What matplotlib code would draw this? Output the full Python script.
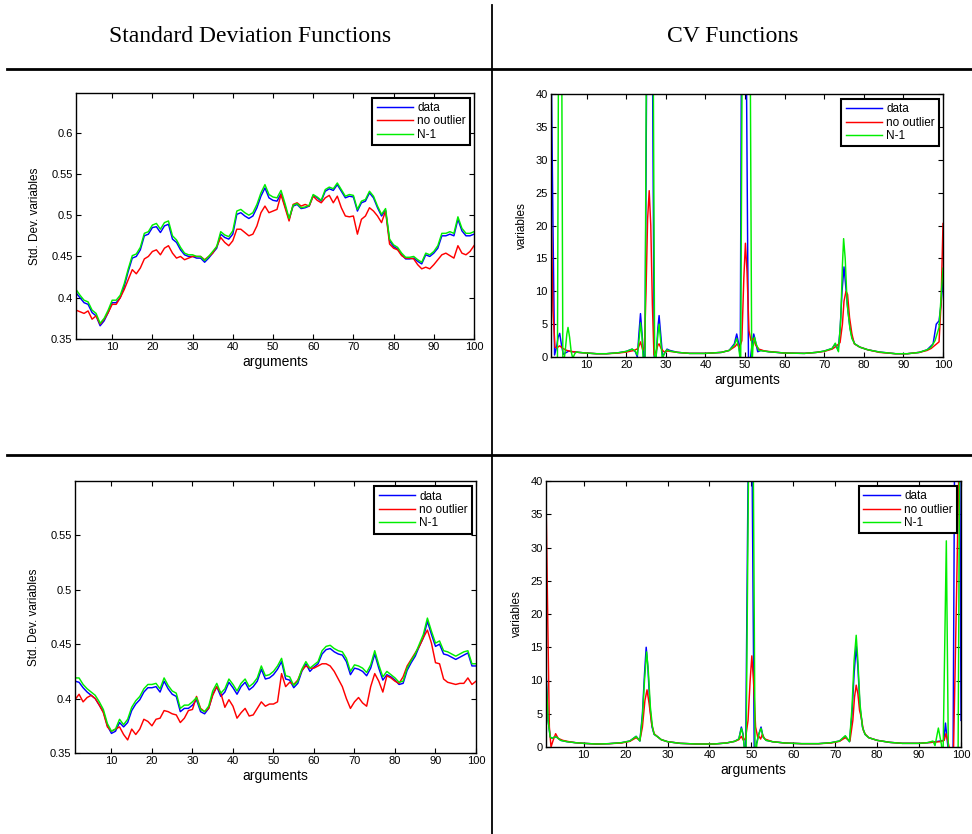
import matplotlib
matplotlib.use("Agg")
import matplotlib.pyplot as plt
from matplotlib.lines import Line2D
from matplotlib.ticker import FuncFormatter

plt.rcParams['font.family'] = ['Liberation Sans', 'DejaVu Sans']

# ---------------------------------------------------------------- data
arguments = list(range(1, 101))

# upper panel: standard deviation functions
std_top_data = [
    0.406, 0.400, 0.394, 0.392, 0.382, 0.378, 0.366, 0.372, 0.382, 0.394,
    0.394, 0.400, 0.414, 0.432, 0.448, 0.450, 0.458, 0.475, 0.477, 0.485,
    0.486, 0.479, 0.487, 0.489, 0.471, 0.467, 0.458, 0.452, 0.450, 0.450,
    0.448, 0.448, 0.443, 0.448, 0.454, 0.460, 0.477, 0.473, 0.471, 0.477,
    0.501, 0.503, 0.499, 0.496, 0.499, 0.509, 0.523, 0.533, 0.521, 0.518,
    0.517, 0.526, 0.511, 0.495, 0.511, 0.513, 0.508, 0.509, 0.511, 0.524,
    0.521, 0.517, 0.529, 0.532, 0.530, 0.537, 0.529, 0.521, 0.523, 0.522,
    0.505, 0.515, 0.517, 0.527, 0.521, 0.509, 0.499, 0.506, 0.469, 0.462,
    0.459, 0.452, 0.447, 0.447, 0.448, 0.444, 0.441, 0.452, 0.450, 0.454,
    0.460, 0.475, 0.475, 0.477, 0.475, 0.495, 0.481, 0.475, 0.475, 0.477]
std_top_no_outlier = [
    0.385, 0.383, 0.381, 0.384, 0.374, 0.378, 0.368, 0.374, 0.382, 0.392,
    0.392, 0.400, 0.410, 0.422, 0.434, 0.429, 0.436, 0.447, 0.450, 0.456,
    0.458, 0.452, 0.460, 0.463, 0.454, 0.448, 0.450, 0.446, 0.448, 0.450,
    0.450, 0.450, 0.446, 0.450, 0.454, 0.462, 0.473, 0.467, 0.463, 0.469,
    0.483, 0.483, 0.479, 0.475, 0.477, 0.487, 0.503, 0.511, 0.503, 0.505,
    0.507, 0.525, 0.509, 0.493, 0.513, 0.515, 0.511, 0.513, 0.511, 0.523,
    0.518, 0.515, 0.521, 0.524, 0.515, 0.523, 0.509, 0.499, 0.498, 0.499,
    0.477, 0.495, 0.499, 0.509, 0.505, 0.499, 0.491, 0.505, 0.465, 0.460,
    0.458, 0.451, 0.448, 0.448, 0.447, 0.440, 0.435, 0.437, 0.435, 0.440,
    0.446, 0.452, 0.454, 0.451, 0.448, 0.463, 0.454, 0.452, 0.456, 0.463]
std_top_n1 = [
    0.410, 0.403, 0.397, 0.395, 0.385, 0.381, 0.369, 0.375, 0.385, 0.397,
    0.397, 0.403, 0.417, 0.435, 0.451, 0.453, 0.461, 0.478, 0.480, 0.488,
    0.490, 0.483, 0.491, 0.493, 0.475, 0.470, 0.461, 0.454, 0.452, 0.452,
    0.450, 0.450, 0.445, 0.450, 0.456, 0.462, 0.480, 0.476, 0.474, 0.481,
    0.505, 0.507, 0.503, 0.500, 0.503, 0.513, 0.527, 0.537, 0.525, 0.522,
    0.521, 0.530, 0.514, 0.496, 0.512, 0.514, 0.509, 0.510, 0.512, 0.525,
    0.522, 0.518, 0.531, 0.534, 0.532, 0.539, 0.531, 0.523, 0.525, 0.524,
    0.507, 0.517, 0.519, 0.529, 0.523, 0.511, 0.501, 0.508, 0.471, 0.464,
    0.461, 0.454, 0.449, 0.449, 0.450, 0.446, 0.443, 0.454, 0.452, 0.456,
    0.463, 0.478, 0.478, 0.480, 0.478, 0.498, 0.484, 0.478, 0.478, 0.480]

# lower panel: standard deviation functions
std_bottom_data = [
    0.416, 0.415, 0.410, 0.406, 0.403, 0.400, 0.394, 0.388, 0.375, 0.368,
    0.370, 0.378, 0.374, 0.378, 0.389, 0.395, 0.399, 0.406, 0.410, 0.410,
    0.411, 0.406, 0.416, 0.409, 0.404, 0.402, 0.388, 0.391, 0.391, 0.394,
    0.399, 0.388, 0.386, 0.391, 0.404, 0.411, 0.402, 0.406, 0.415, 0.410,
    0.404, 0.411, 0.415, 0.408, 0.411, 0.416, 0.427, 0.418, 0.419, 0.422,
    0.427, 0.434, 0.418, 0.417, 0.410, 0.414, 0.425, 0.432, 0.425, 0.429,
    0.432, 0.441, 0.445, 0.446, 0.443, 0.441, 0.440, 0.434, 0.422, 0.428,
    0.427, 0.425, 0.421, 0.428, 0.441, 0.428, 0.417, 0.422, 0.420, 0.417,
    0.413, 0.414, 0.426, 0.433, 0.439, 0.448, 0.456, 0.471, 0.459, 0.448,
    0.450, 0.441, 0.440, 0.438, 0.436, 0.438, 0.440, 0.442, 0.430, 0.430]
std_bottom_no_outlier = [
    0.399, 0.404, 0.397, 0.401, 0.403, 0.400, 0.394, 0.387, 0.374, 0.370,
    0.372, 0.374, 0.367, 0.362, 0.372, 0.367, 0.372, 0.381, 0.379, 0.375,
    0.381, 0.382, 0.389, 0.388, 0.386, 0.385, 0.378, 0.382, 0.389, 0.390,
    0.402, 0.391, 0.388, 0.391, 0.403, 0.411, 0.405, 0.392, 0.399, 0.393,
    0.382, 0.387, 0.391, 0.384, 0.385, 0.391, 0.397, 0.393, 0.395, 0.395,
    0.397, 0.423, 0.411, 0.415, 0.413, 0.417, 0.426, 0.430, 0.428, 0.428,
    0.430, 0.432, 0.432, 0.430, 0.425, 0.418, 0.411, 0.400, 0.391, 0.397,
    0.401, 0.396, 0.393, 0.411, 0.423, 0.416, 0.406, 0.421, 0.419, 0.416,
    0.414, 0.420, 0.430, 0.436, 0.442, 0.448, 0.456, 0.463, 0.451, 0.433,
    0.432, 0.418, 0.415, 0.414, 0.413, 0.414, 0.414, 0.419, 0.413, 0.416]
std_bottom_n1 = [
    0.419, 0.419, 0.413, 0.409, 0.406, 0.403, 0.397, 0.390, 0.377, 0.370,
    0.372, 0.381, 0.376, 0.381, 0.392, 0.398, 0.402, 0.409, 0.413, 0.413,
    0.414, 0.409, 0.419, 0.412, 0.407, 0.405, 0.391, 0.394, 0.394, 0.397,
    0.401, 0.390, 0.388, 0.393, 0.407, 0.414, 0.405, 0.409, 0.418, 0.413,
    0.407, 0.414, 0.418, 0.411, 0.414, 0.419, 0.430, 0.421, 0.422, 0.425,
    0.430, 0.437, 0.421, 0.420, 0.412, 0.416, 0.427, 0.434, 0.428, 0.431,
    0.434, 0.444, 0.448, 0.449, 0.446, 0.444, 0.443, 0.437, 0.425, 0.431,
    0.430, 0.428, 0.424, 0.431, 0.444, 0.431, 0.420, 0.425, 0.422, 0.419,
    0.415, 0.416, 0.428, 0.435, 0.441, 0.450, 0.459, 0.474, 0.462, 0.451,
    0.453, 0.444, 0.443, 0.441, 0.439, 0.441, 0.443, 0.444, 0.432, 0.432]

# upper panel: CV functions, (argument, value) pairs
cv_top_data = [
    (1, 48), (1.5, 20), (1.9, 0.3), (2.4, 1.5), (2.8, 3.0), (3.2, 3.6), (3.6, 2.0),
    (4.1, 0.4), (4.6, 0.6), (5.5, 0.9), (6.5, 0.8), (8, 0.7), (10, 0.6), (12.5, 0.5),
    (15, 0.5), (18, 0.65), (20, 0.85), (21.5, 1.2), (22.3, 0.8), (22.8, 0.0),
    (23.2, 3.5), (23.6, 6.6), (24.0, 3.5), (24.4, 0.0), (24.7, -3), (25.2, 48),
    (26.6, 48), (27.1, -3), (27.6, 0.5), (28.0, 4.5), (28.3, 6.3), (28.7, 3.5),
    (29.2, 0.0), (29.7, 0.6), (30.3, 1.2), (31, 1.0), (33, 0.7), (36, 0.55),
    (40, 0.55), (44, 0.7), (46, 1.0), (47.3, 2.0), (47.9, 3.5), (48.4, 2.0),
    (48.8, 0.0), (49.1, 48), (50.3, 48), (50.9, -3), (51.5, 0.5), (51.9, 2.5),
    (52.2, 3.5), (52.6, 2.5), (53.2, 0.8), (54, 1.0), (56, 0.8), (60, 0.6),
    (65, 0.55), (68, 0.7), (70, 0.9), (72, 1.3), (72.8, 2.0), (73.5, 1.0),
    (74.0, 4), (74.5, 10), (75.0, 13.7), (75.4, 11), (76.0, 7), (76.5, 4.5),
    (77.0, 3.0), (77.7, 2.0), (79, 1.5), (81, 1.1), (84, 0.75), (88, 0.5),
    (91, 0.5), (94, 0.7), (96, 1.1), (97.5, 2.0), (98.3, 5.0), (99, 5.5),
    (99.5, 8), (100, 11.7)]
cv_top_no_outlier = [
    (1, 23.4), (1.5, 7), (2.0, 1.5), (2.5, 1.4), (3.2, 1.7), (4, 1.3), (5, 1.0),
    (6, 0.85), (8, 0.7), (10, 0.6), (12.5, 0.5), (15, 0.5), (18, 0.6), (20, 0.75),
    (22, 1.0), (23, 1.3), (23.6, 2.3), (24.2, 1.0), (24.6, 1.5), (25.0, 10),
    (25.4, 21), (25.8, 25.3), (26.2, 20), (26.6, 8), (27.0, 0.3), (27.5, 0.8),
    (28.0, 1.8), (28.3, 2.0), (28.8, 1.3), (29.5, 0.8), (30.5, 0.9), (33, 0.7),
    (36, 0.55), (40, 0.55), (44, 0.7), (46, 1.0), (47.5, 1.6), (48, 2.0),
    (48.6, 1.4), (49.2, 2.5), (49.7, 12), (50.1, 17.3), (50.5, 13), (51.0, 4),
    (51.5, 2.5), (52.1, 2.8), (52.7, 1.8), (53.5, 1.2), (55, 0.9), (60, 0.6),
    (65, 0.55), (68, 0.7), (70, 0.85), (72, 1.2), (73, 1.6), (74, 2.2), (74.6, 5),
    (75.0, 8.5), (75.5, 10.0), (75.9, 9.5), (76.4, 6), (77, 3.5), (77.6, 2.0),
    (79, 1.5), (81, 1.1), (84, 0.7), (88, 0.5), (91, 0.5), (94, 0.7), (96, 1.0),
    (97, 1.3), (98, 1.8), (99, 2.3), (99.5, 8), (100, 20.3)]
cv_top_n1 = [
    (1, -5), (2.6, -5), (2.9, 48), (3.7, 48), (4.0, -2), (4.6, 1.0), (5.0, 3.5),
    (5.3, 4.5), (5.7, 3.0), (6.1, 0.8), (6.5, -0.2), (7.0, 0.5), (7.5, 0.8),
    (8, 0.7), (10, 0.6), (12.5, 0.5), (15, 0.5), (18, 0.65), (20, 0.85),
    (21.5, 1.2), (22.3, 0.9), (22.8, 0.3), (23.3, 3), (23.6, 5.2), (24.0, 3),
    (24.4, -2), (24.7, -5), (25.1, 48), (26.8, 48), (27.2, -4), (27.6, 0.5),
    (28.0, 3.5), (28.3, 5.0), (28.7, 2.5), (29.1, -0.2), (29.7, 0.6), (30.3, 1.1),
    (31, 0.9), (33, 0.7), (36, 0.55), (40, 0.55), (44, 0.7), (46, 1.0),
    (47.3, 1.8), (47.9, 2.8), (48.4, 1.5), (48.9, -1), (49.3, 48), (51.3, 48),
    (51.7, -2), (52.0, 1.5), (52.4, 3.0), (52.8, 2.0), (53.5, 1.0), (56, 0.8),
    (60, 0.6), (65, 0.55), (68, 0.7), (70, 0.9), (72, 1.3), (72.8, 2.1),
    (73.6, 0.8), (74.2, 6), (74.6, 14), (74.9, 18), (75.3, 15), (75.8, 8),
    (76.5, 4.3), (77, 2.8), (77.7, 2.0), (79, 1.5), (81, 1.1), (84, 0.75),
    (88, 0.5), (91, 0.5), (94, 0.7), (96, 1.1), (97, 1.5), (98, 2.5), (99, 4.5),
    (99.5, 9), (100, 13.5)]

# lower panel: CV functions, (argument, value) pairs
cv_bottom_data = [
    (1, 11.5), (1.5, 4), (2, 1.5), (2.5, 1.3), (3, 1.5), (3.5, 1.5), (4.5, 1.0),
    (6, 0.8), (8, 0.65), (10, 0.55), (13, 0.45), (16, 0.5), (19, 0.65), (21, 0.9),
    (22.5, 1.6), (23.4, 0.9), (24.0, 5), (24.5, 11), (24.9, 15.0), (25.3, 12),
    (25.8, 6), (26.3, 3), (26.8, 1.9), (27.5, 1.6), (28.5, 1.1), (30, 0.8),
    (33, 0.55), (37, 0.45), (41, 0.45), (44, 0.6), (46, 0.85), (47, 1.2),
    (47.6, 3.0), (48.0, 2.0), (48.3, 0.0), (48.6, -3), (49.3, 48), (50.1, 48),
    (50.7, -3), (51.2, 0.5), (51.8, 2.0), (52.3, 3.0), (52.8, 1.5), (53.5, 1.0),
    (55, 0.8), (58, 0.6), (62, 0.5), (66, 0.5), (69, 0.65), (71, 0.9), (72.4, 1.6),
    (73.4, 0.8), (74.0, 5), (74.5, 11), (75.0, 15.2), (75.4, 12), (75.9, 6),
    (76.5, 3), (77.1, 1.9), (78, 1.4), (80, 1.0), (83, 0.7), (86, 0.55),
    (90, 0.55), (93, 0.7), (95, 0.9), (95.9, 1.0), (96.3, 3.6), (96.8, 0.5),
    (97.2, -2), (98.1, -2), (98.5, 48), (99.7, 48), (100, 4.0)]
cv_bottom_no_outlier = [
    (1, 37.9), (1.4, 20), (1.8, 3), (2.2, 0.0), (2.7, 1.0), (3.3, 2.0), (3.9, 1.3),
    (5, 1.0), (6.5, 0.8), (8, 0.65), (10, 0.55), (13, 0.45), (16, 0.5), (19, 0.6),
    (21, 0.85), (22.5, 1.4), (23.4, 1.0), (24.0, 3), (24.6, 7), (25.1, 8.6),
    (25.6, 6.5), (26.2, 3.5), (26.8, 2.0), (27.5, 1.6), (28.5, 1.1), (30, 0.8),
    (33, 0.55), (37, 0.45), (41, 0.45), (44, 0.6), (46, 0.85), (47, 1.1),
    (47.6, 1.6), (48.1, 1.0), (48.6, 1.3), (49.2, 4), (49.7, 10), (50.1, 13.7),
    (50.5, 10), (51.0, 3), (51.5, 1.5), (51.8, 1.6), (52.2, 1.2), (52.6, 1.9),
    (53.2, 1.2), (55, 0.8), (58, 0.6), (62, 0.5), (66, 0.5), (69, 0.6), (71, 0.85),
    (72.4, 1.4), (73.5, 0.9), (74.2, 4), (74.6, 7.5), (75.0, 9.3), (75.4, 8),
    (75.8, 5.5), (76.2, 4.5), (76.7, 2.5), (77.2, 1.9), (78, 1.4), (80, 1.0),
    (83, 0.7), (86, 0.55), (90, 0.55), (93, 0.7), (95, 0.8), (96, 1.0),
    (96.4, 2.0), (96.9, 0.8), (97.5, -1), (98.2, -1), (98.7, 15), (99.2, 32),
    (99.6, 45), (100, 45)]
cv_bottom_n1 = [
    (1, 11.0), (1.5, 4), (2, 1.5), (2.5, 1.3), (3, 1.5), (3.5, 1.5), (4.5, 1.0),
    (6, 0.8), (8, 0.65), (10, 0.55), (13, 0.45), (16, 0.5), (19, 0.65), (21, 0.9),
    (22.5, 1.6), (23.4, 0.9), (24.0, 4.5), (24.5, 10), (25.0, 14.3), (25.4, 11.5),
    (25.9, 6), (26.4, 3), (26.8, 1.9), (27.5, 1.6), (28.5, 1.1), (30, 0.8),
    (33, 0.55), (37, 0.45), (41, 0.45), (44, 0.6), (46, 0.85), (47, 1.2),
    (47.6, 2.8), (48.0, 1.8), (48.3, 0.0), (48.7, -3), (49.4, 48), (50.4, 48),
    (50.9, -3), (51.3, 0.5), (51.8, 2.0), (52.3, 2.8), (52.8, 1.5), (53.5, 1.0),
    (55, 0.8), (58, 0.6), (62, 0.5), (66, 0.5), (69, 0.65), (71, 0.9), (72.4, 1.7),
    (73.4, 0.8), (74.0, 6), (74.5, 13), (75.0, 16.8), (75.4, 13), (75.9, 6.5),
    (76.5, 3), (77.1, 1.9), (78, 1.4), (80, 1.0), (83, 0.7), (86, 0.55),
    (90, 0.55), (92, 0.65), (93.3, 0.9), (93.8, 0.2), (94.6, 2.85), (95.3, 0.5),
    (95.7, -2), (96.5, 31), (97.0, -2), (99.3, -2), (99.7, 48), (100, 48)]

series_labels = ["data", "no outlier", "N-1"]
series_colors = ["#0000ff", "#ff0000", "#00ee00"]
column_titles = ["Standard Deviation Functions", "CV Functions"]
x_ticks = [10, 20, 30, 40, 50, 60, 70, 80, 90, 100]
std_top_yticks = [0.35, 0.4, 0.45, 0.5, 0.55, 0.6]
std_bottom_yticks = [0.35, 0.4, 0.45, 0.5, 0.55]
cv_yticks = [0, 5, 10, 15, 20, 25, 30, 35, 40]

# ---------------------------------------------------------------- figure
W, H = 972, 834
fig = plt.figure(figsize=(W / 100, H / 100), dpi=100)
fig.patch.set_facecolor("white")


def axes_px(x0, y0, x1, y1):
    return fig.add_axes([x0 / W, 1 - y1 / H, (x1 - x0) / W, (y1 - y0) / H])


def style_axes(ax, ylim, yticks, ylabel, ylabelpad):
    ax.set_xlim(1, 100)
    ax.set_ylim(*ylim)
    ax.set_xticks(x_ticks)
    ax.set_yticks(yticks)
    ax.yaxis.set_major_formatter(FuncFormatter(lambda v, p: "%g" % v))
    ax.tick_params(direction="in", top=True, right=True, length=3.5,
                   width=0.8, labelsize=8, pad=2.5, colors="black")
    for sp in ax.spines.values():
        sp.set_linewidth(1.0)
        sp.set_color("black")
    ax.set_xlabel("arguments", fontsize=10, labelpad=1.5)
    ax.set_ylabel(ylabel, fontsize=8.5, labelpad=ylabelpad)
    leg = ax.legend(loc="upper right", bbox_to_anchor=(0.99, 0.98),
                    borderaxespad=0, fontsize=8.5, handlelength=3.1,
                    handletextpad=0.35, labelspacing=0.12, borderpad=0.35,
                    fancybox=False, framealpha=1, edgecolor="black")
    leg.get_frame().set_linewidth(1.5)


def draw_std(ax, series):
    for vals, lab, col in zip(series, series_labels, series_colors):
        ax.plot(arguments, vals, color=col, lw=1.05, label=lab)


def draw_cv(ax, series):
    for pairs, lab, col in zip(series, series_labels, series_colors):
        xs = [p[0] for p in pairs]
        ys = [p[1] for p in pairs]
        ax.plot(xs, ys, color=col, lw=1.05, label=lab)


ax_tl = axes_px(76, 93, 474, 339)
draw_std(ax_tl, [std_top_data, std_top_no_outlier, std_top_n1])
style_axes(ax_tl, (0.35, 0.648), std_top_yticks, "Std. Dev. variables", 7)

ax_tr = axes_px(551, 94, 943, 357)
draw_cv(ax_tr, [cv_top_data, cv_top_no_outlier, cv_top_n1])
style_axes(ax_tr, (0, 40), cv_yticks, "variables", 5)

ax_bl = axes_px(75, 481, 476, 753)
draw_std(ax_bl, [std_bottom_data, std_bottom_no_outlier, std_bottom_n1])
style_axes(ax_bl, (0.35, 0.6), std_bottom_yticks, "Std. Dev. variables", 7)

ax_br = axes_px(546, 481, 961, 747)
draw_cv(ax_br, [cv_bottom_data, cv_bottom_no_outlier, cv_bottom_n1])
style_axes(ax_br, (0, 40), cv_yticks, "variables", 5)

# table rules and column headings
def rule(x0, y0, x1, y1, lw):
    fig.add_artist(Line2D([x0 / W, x1 / W], [1 - y0 / H, 1 - y1 / H],
                          transform=fig.transFigure, color="black", lw=lw))


rule(7, 68.5, 972, 68.5, 2.0)
rule(7, 455, 972, 455, 2.0)
rule(492, 5, 492, 834, 1.3)

for title, cx in zip(column_titles, [250, 733]):
    fig.text(cx / W, 1 - 37 / H, title, ha="center", va="center",
             fontsize=17, family=["Liberation Serif", "DejaVu Serif"])

fig.savefig("out.png", dpi=100, facecolor="white")
